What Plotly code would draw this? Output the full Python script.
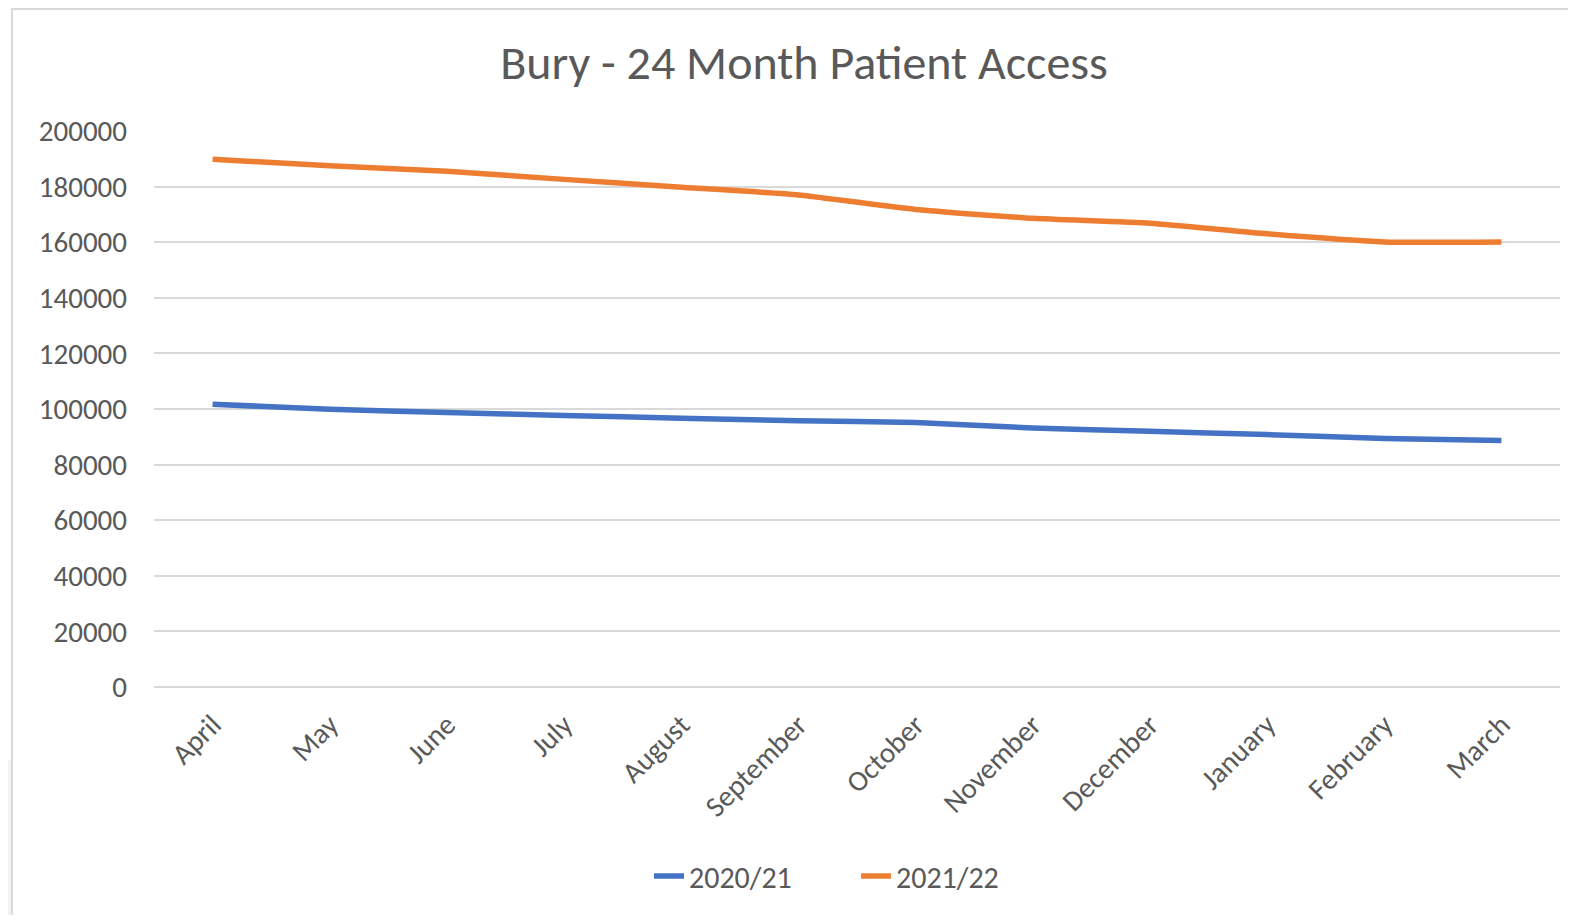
import plotly.graph_objects as go

months = ["April", "May", "June", "July", "August", "September",
          "October", "November", "December", "January", "February", "March"]
series_2020_21 = [101700, 99900, 98700, 97700, 96700, 95800,
                  95100, 93200, 92000, 90800, 89400, 88700]
series_2021_22 = [189800, 187500, 185500, 182600, 179800, 177000,
                  171800, 168600, 166800, 163000, 160100, 160100]
y_ticks = list(range(0, 200001, 20000))

FONT = "Carlito, Calibri, Lato, sans-serif"
TXT = "#595959"
GRID = "#d9d9d9"

OFF = 8  # page body margin
W, H = 1576 - 2 * OFF, 923 - 2 * OFF
# plot area in page pixels
L, R, T, B = 154, 1560, 131, 687

def px(x):
    return (x - L) / (R - L)

def py(y):
    return (B - y) / (B - T)

fig = go.Figure()
fig.add_trace(go.Scatter(x=months, y=series_2020_21, name="2020/21", mode="lines",
                         line=dict(color="#4472C4", width=5.5, shape="spline", smoothing=0.5)))
fig.add_trace(go.Scatter(x=months, y=series_2021_22, name="2021/22", mode="lines",
                         line=dict(color="#ED7D31", width=5.5, shape="spline", smoothing=0.5)))

fig.update_layout(
    width=W, height=H,
    margin=dict(l=L - OFF, r=W - (R - OFF), t=T - OFF, b=H - (B - OFF)),
    paper_bgcolor="white", plot_bgcolor="white",
    font=dict(family=FONT, color=TXT, size=29),
    title=dict(text="Bury - 24 Month Patient Access", x=(804 - OFF) / W, xanchor="center",
               y=1 - (62 - OFF) / H, yanchor="middle", yref="container",
               font=dict(family=FONT, size=48, color=TXT)),
    showlegend=True,
    legend=dict(orientation="h", x=px(856), xanchor="center",
                y=py(876), yanchor="middle", font=dict(size=30, color=TXT),
                traceorder="normal", entrywidth=162),
    xaxis=dict(type="category", range=[-0.5, 11.5], showgrid=False, showline=False,
               ticks="", tickangle=-45, tickfont=dict(size=29, color=TXT),
               ticklabelstandoff=14, fixedrange=True),
    yaxis=dict(range=[0, 200000], tickvals=y_ticks, ticktext=[str(v) for v in y_ticks],
               showgrid=True, gridcolor=GRID, gridwidth=1.5, zeroline=True,
               zerolinecolor=GRID, zerolinewidth=1.5, showline=False, ticks="",
               tickfont=dict(size=29, color=TXT), ticklabelstandoff=26, fixedrange=True),
    shapes=[
        dict(type="rect", xref="paper", yref="paper", x0=px(0), x1=px(12),
             y0=py(925), y1=py(760), fillcolor="#f2f2f2", line=dict(width=0), layer="below"),
        dict(type="rect", xref="paper", yref="paper", x0=px(12), x1=px(1590),
             y0=py(940), y1=py(9), line=dict(color=GRID, width=2), fillcolor="rgba(0,0,0,0)"),
    ],
)

fig.write_html("out.html")
